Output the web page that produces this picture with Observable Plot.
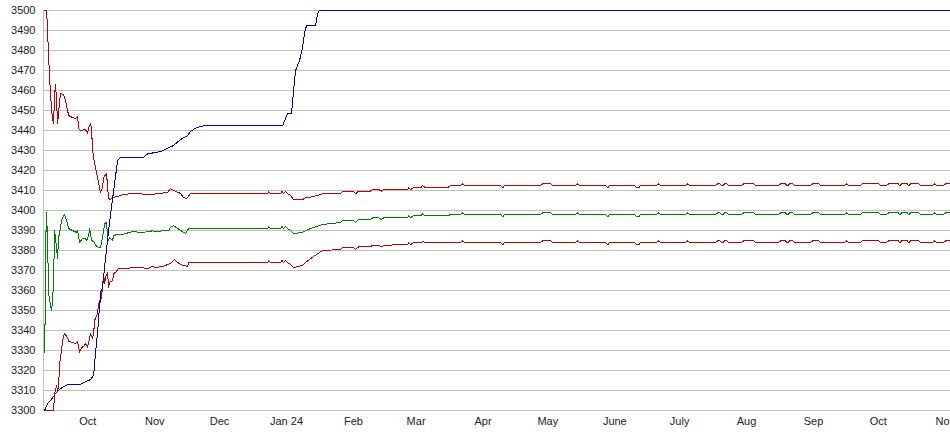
<!DOCTYPE html>
<html>
<head>
<meta charset="utf-8">
<script src="https://cdn.jsdelivr.net/npm/d3@7"></script>
<script src="https://cdn.jsdelivr.net/npm/@observablehq/plot@0.6"></script>
<style>
  html, body { margin: 0; padding: 0; background: #fff; overflow: hidden; }
  #chart svg { display: block; overflow: visible; }
</style>
</head>
<body>
<div id="chart"></div>
<script>
// ---------- tick labels ----------
const yTicks = d3.range(3300, 3501, 10);
const xTickDates = ["2023-10-01 00","2023-11-01 00","2023-12-01 00","2024-01-01 00","2024-02-01 00","2024-03-01 00","2024-04-01 00","2024-05-01 00","2024-06-01 00","2024-07-01 00","2024-08-01 00","2024-09-01 00","2024-10-01 00","2024-11-01 00"];
const xTickLabels = ["Oct","Nov","Dec","Jan 24","Feb","Mar","Apr","May","June","July","Aug","Sep","Oct","Nov"];

// ---------- blue series ----------
const blueDates = ["2023-09-11 00","2023-09-12 09","2023-09-13 19","2023-09-16 02","2023-09-18 10","2023-09-21 16","2023-09-27 12","2023-09-29 01","2023-10-01 09","2023-10-02 07",
  "2023-10-03 17","2023-10-04 15","2023-10-05 12","2023-10-06 22","2023-10-07 20","2023-10-09 06","2023-10-10 15","2023-10-12 12","2023-10-14 19","2023-10-16 05",
  "2023-10-26 20","2023-10-28 17","2023-11-03 17","2023-11-09 17","2023-11-12 23","2023-11-16 05","2023-11-17 14","2023-11-20 09","2023-11-23 14","2023-12-30 05",
  "2024-01-01 12","2024-01-03 08","2024-01-04 07","2024-01-05 05","2024-01-07 01","2024-01-08 11","2024-01-09 09","2024-01-10 07","2024-01-14 11","2024-01-15 09",
  "2024-01-16 07","2024-11-05 00"];
const blueValues = [3300,3303.5,3305,3308.5,3311,3313,3313,3314,3315,3315.5,
  3317.5,3329,3338.5,3359,3361.5,3376.5,3390,3406,3425,3426.7,
  3426.7,3428.3,3429.5,3432.5,3435.5,3437.5,3439.5,3441.5,3442.3,3442.3,
  3448.5,3448.5,3460,3470,3475,3481.5,3489,3492.5,3492.5,3498.5,
  3500,3500];

// ---------- upper red series (early part) ----------
const upperEarlyDates = ["2023-09-11 00","2023-09-11 22","2023-09-12 06","2023-09-12 20","2023-09-13 07","2023-09-13 19","2023-09-14 06","2023-09-14 17","2023-09-15 04","2023-09-15 15",
  "2023-09-16 02","2023-09-16 13","2023-09-17 00","2023-09-17 12","2023-09-17 23","2023-09-18 10","2023-09-19 19","2023-09-20 17","2023-09-21 16","2023-09-22 03",
  "2023-09-23 23","2023-09-25 08","2023-09-26 07","2023-09-26 18","2023-09-27 16","2023-09-29 23","2023-09-30 22","2023-10-01 09","2023-10-02 07","2023-10-02 18",
  "2023-10-03 05","2023-10-04 04","2023-10-05 13","2023-10-06 22","2023-10-07 20","2023-10-08 07","2023-10-09 17","2023-10-10 04","2023-10-10 15","2023-10-11 13",
  "2023-10-12 12","2023-10-14 19","2023-10-17 14","2023-10-21 18","2023-10-30 02","2023-11-06 23","2023-11-08 08","2023-11-09 17","2023-11-12 23","2023-11-14 08",
  "2023-11-15 18","2023-11-17 14"];
const upperEarlyValues = [3500,3500,3493,3478,3467,3458,3450,3446,3443.5,3458,
  3463,3455,3443.5,3448.5,3455,3458.5,3458,3455,3450,3447.5,
  3446.5,3446,3447,3441,3440,3440.5,3438.5,3441,3443.5,3441,
  3430,3423.5,3416.5,3409,3411.5,3416.5,3418.5,3411.5,3406,3405.5,
  3406.5,3407,3408,3408.5,3408,3409,3411,3410,3408.5,3406.5,
  3406,3408.5];

// ---------- green series (early part) ----------
const midEarlyDates = ["2023-09-11 00","2023-09-11 06","2023-09-11 11","2023-09-11 22","2023-09-12 06","2023-09-12 17","2023-09-12 20","2023-09-13 19","2023-09-14 06","2023-09-14 17",
  "2023-09-15 04","2023-09-15 15","2023-09-16 13","2023-09-17 00","2023-09-17 12","2023-09-17 23","2023-09-18 21","2023-09-19 19","2023-09-20 06","2023-09-21 05",
  "2023-09-22 03","2023-09-23 23","2023-09-25 19","2023-09-26 07","2023-09-27 05","2023-09-28 14","2023-09-29 23","2023-09-30 11","2023-10-01 09","2023-10-01 20",
  "2023-10-02 18","2023-10-03 17","2023-10-04 15","2023-10-06 00","2023-10-06 22","2023-10-07 20","2023-10-08 19","2023-10-09 17","2023-10-10 04","2023-10-10 15",
  "2023-10-11 02","2023-10-12 12","2023-10-12 23","2023-10-14 19","2023-10-17 03","2023-10-21 18","2023-10-25 11","2023-10-30 02","2023-10-31 00","2023-10-31 11",
  "2023-11-07 10","2023-11-08 08","2023-11-09 17","2023-11-11 14","2023-11-12 23","2023-11-15 07","2023-11-16 16"];
const midEarlyValues = [3329,3346.5,3381.5,3399,3388.5,3368.5,3358.5,3352.5,3350,3355,
  3365,3390,3381.5,3376,3386.5,3389,3395,3397.5,3398,3395,
  3391,3390,3389,3390,3384,3386,3386,3385,3387.5,3391,
  3385,3384.5,3382.5,3381.5,3381.5,3386.5,3393.5,3394,3386.5,3385,
  3386.5,3385,3387.5,3388,3388,3389.5,3389,3389.5,3390,3389.5,
  3390,3391.5,3392.5,3391,3390,3388.5,3391];

// ---------- lower red series (early part) ----------
const lowerEarlyDates = ["2023-09-11 00","2023-09-15 04","2023-09-15 15","2023-09-16 13","2023-09-17 00","2023-09-17 12","2023-09-17 23","2023-09-18 21","2023-09-19 08","2023-09-20 06",
  "2023-09-21 16","2023-09-22 03","2023-09-23 23","2023-09-25 08","2023-09-26 07","2023-09-27 05","2023-09-28 03","2023-09-29 01","2023-09-29 23","2023-09-30 22",
  "2023-10-01 09","2023-10-02 07","2023-10-03 05","2023-10-03 17","2023-10-04 04","2023-10-05 13","2023-10-06 00","2023-10-06 22","2023-10-07 20","2023-10-08 07",
  "2023-10-08 19","2023-10-09 06","2023-10-10 04","2023-10-10 15","2023-10-11 02","2023-10-12 12","2023-10-12 23","2023-10-13 21","2023-10-15 06","2023-10-18 12",
  "2023-10-22 05","2023-10-25 11","2023-10-28 17","2023-10-31 00","2023-11-01 09","2023-11-04 15","2023-11-08 08","2023-11-10 05","2023-11-11 14","2023-11-12 23",
  "2023-11-16 05","2023-11-16 16"];
const lowerEarlyValues = [3300,3300,3308.5,3312.5,3310,3312,3323.5,3330,3335,3338.5,
  3336.5,3334.5,3334,3333.5,3334.5,3329,3331.5,3332,3333.5,3331.5,
  3334,3338.5,3336,3338.5,3345,3348.5,3353.5,3354,3361.5,3368.5,
  3363.5,3367,3369,3361.5,3364,3365,3368.5,3369,3371,3371,
  3371.5,3371.5,3371,3372,3371.5,3372,3373.5,3375.5,3374,3373,
  3372,3374];

// ---------- shared dates after mid-December (the three bands move together) ----------
const syncDates = ["2023-12-23 06","2023-12-23 17","2023-12-24 15","2023-12-29 06","2023-12-29 23","2023-12-30 16","2023-12-31 14","2024-01-01 12","2024-01-02 22","2024-01-04 07",
  "2024-01-08 11","2024-01-09 20","2024-01-13 13","2024-01-17 17","2024-01-26 01","2024-01-26 23","2024-02-01 01","2024-02-02 00","2024-02-03 09","2024-02-08 22",
  "2024-02-09 20","2024-02-12 15","2024-02-14 00","2024-02-14 23","2024-02-26 01","2024-02-26 12","2024-02-27 11","2024-02-28 20","2024-03-03 02","2024-03-04 00",
  "2024-03-05 10","2024-03-15 14"];
const syncUpper = [3408.5,3409.5,3408.5,3408.5,3409.5,3408.5,3409.5,3408.5,3407.5,3405.5,
  3405.5,3406.3,3407,3408.3,3408.3,3409.7,3409.7,3408.3,3409.7,3409.7,
  3410.5,3410.5,3409.7,3410.5,3410.5,3411.3,3410.5,3411.3,3411.3,3412.5,
  3411.3,3411.3];
const syncMid = [3391,3392,3391,3391,3392,3391,3392,3391,3390,3388.5,
  3389,3390,3391.5,3393,3394,3395,3395,3394,3395.5,3395.5,
  3396.3,3396.3,3395.5,3396.3,3396.5,3397.3,3396.5,3397.3,3397.3,3398.3,
  3397.3,3397.3];
const syncLower = [3374,3375,3374,3374,3375,3374,3375,3374,3373,3371.5,
  3372.5,3374,3377,3380,3380.5,3381.5,3381.5,3380.5,3381.8,3381.8,
  3382.6,3382.6,3381.8,3382.6,3383,3383.8,3383,3383.8,3383.8,3384.6,
  3383.8,3383.8];

const lateDates = ["2024-03-16 23","2024-03-21 14","2024-03-22 12","2024-03-23 11","2024-04-09 03","2024-04-10 01","2024-04-10 23","2024-04-27 15","2024-04-28 13","2024-05-02 06",
  "2024-05-03 05","2024-05-13 20","2024-05-14 18","2024-05-15 17","2024-05-27 17","2024-05-28 16","2024-05-29 14","2024-06-10 04","2024-06-11 02","2024-06-12 00",
  "2024-06-12 22","2024-06-20 08","2024-06-21 06","2024-06-22 05","2024-07-03 18","2024-07-04 17","2024-07-05 15","2024-07-17 16","2024-07-18 14","2024-07-19 12",
  "2024-07-20 21","2024-07-21 19","2024-07-22 18","2024-07-23 16","2024-07-29 17","2024-07-30 15","2024-08-04 06","2024-08-05 04","2024-08-15 19","2024-08-16 18",
  "2024-08-19 01","2024-08-19 23","2024-08-20 22","2024-08-22 07","2024-08-23 05","2024-08-30 15","2024-08-31 13","2024-09-03 08","2024-09-04 06","2024-09-15 09",
  "2024-09-16 07","2024-09-17 05","2024-09-22 19","2024-09-23 17","2024-10-01 03","2024-10-02 01","2024-10-04 19","2024-10-05 18","2024-10-10 09","2024-10-10 20",
  "2024-10-11 18","2024-10-14 13","2024-10-15 00","2024-10-15 22","2024-10-19 15","2024-10-20 13","2024-10-26 03","2024-10-27 01","2024-10-27 23","2024-10-31 05",
  "2024-11-01 03","2024-11-05 00"];
const lateUpper = [3412.5,3412.5,3413.3,3412.5,3412.5,3411.3,3412.5,3412.5,3413.3,3413.3,
  3412.5,3412.5,3413.3,3412.5,3412.5,3411.3,3412.5,3412.5,3411.3,3411.3,
  3412.5,3412.5,3413.3,3412.5,3412.5,3413.3,3412.5,3412.5,3413.3,3413.3,
  3412.3,3413.3,3413.3,3412.5,3412.5,3413.3,3413.3,3412.5,3412.5,3413.3,
  3413.3,3412.3,3413.3,3413.3,3412.5,3412.5,3413.3,3413.3,3412.5,3412.5,
  3413.3,3412.5,3412.5,3413.6,3413.6,3412.5,3412.5,3413.3,3413.3,3412.3,
  3413.3,3413.3,3412.3,3413.3,3413.3,3412.5,3412.5,3413.3,3412.5,3412.5,
  3413.3,3413.3];
const lateMid = [3398,3398,3398.8,3398,3398,3396.8,3398,3398,3398.8,3398.8,
  3398,3398,3398.8,3398,3398,3396.8,3398,3398,3396.8,3396.8,
  3398,3398,3398.8,3398,3398,3398.8,3398,3398,3398.8,3398.8,
  3397.8,3398.8,3398.8,3398,3398,3398.8,3398.8,3398,3398,3398.8,
  3398.8,3397.8,3398.8,3398.8,3398,3398,3398.8,3398.8,3398,3398,
  3398.8,3398,3398,3399.1,3399.1,3398,3398,3398.8,3398.8,3397.8,
  3398.8,3398.8,3397.8,3398.8,3398.8,3398,3398,3398.8,3398,3398,
  3398.8,3398.8];
const lateLower = [3384,3384,3384.8,3384,3384,3382.8,3384,3384,3384.8,3384.8,
  3384,3384,3384.8,3384,3384,3382.8,3384,3384,3382.8,3382.8,
  3384,3384,3384.8,3384,3384,3384.8,3384,3384,3384.8,3384.8,
  3383.8,3384.8,3384.8,3384,3384,3384.8,3384.8,3384,3384,3384.8,
  3384.8,3383.8,3384.8,3384.8,3384,3384,3384.8,3384.8,3384,3384,
  3384.8,3384,3384,3385.1,3385.1,3384,3384,3384.8,3384.8,3383.8,
  3384.8,3384.8,3383.8,3384.8,3384.8,3384,3384,3384.8,3384,3384,
  3384.8,3384.8];

// ---------- build tables ----------
const parse = d3.utcParse("%Y-%m-%d %H");
function series(dates, values) {
  return dates.map((d, i) => ({date: parse(d), value: values[i]}));
}
const blue = series(blueDates, blueValues);
const upper = series(upperEarlyDates.concat(syncDates, lateDates), upperEarlyValues.concat(syncUpper, lateUpper));
const mid = series(midEarlyDates.concat(syncDates, lateDates), midEarlyValues.concat(syncMid, lateMid));
const lower = series(lowerEarlyDates.concat(syncDates, lateDates), lowerEarlyValues.concat(syncLower, lateLower));

const tickDates = xTickDates.map(parse);
const labelOf = new Map(tickDates.map((d, i) => [+d, xTickLabels[i]]));
const xStart = parse("2023-09-10 12");
const xEnd = parse("2024-11-03 10");

const lineOpts = {x: "date", y: "value", strokeWidth: 1, shapeRendering: "crispEdges"};

const chart = Plot.plot({
  width: 950,
  height: 435,
  marginLeft: 43,
  marginRight: 0,
  marginTop: 10,
  marginBottom: 25,
  style: {fontFamily: "'Liberation Sans', Arial, sans-serif", fontSize: "11px", color: "#222", background: "#fff"},
  x: {type: "utc", domain: [xStart, xEnd]},
  y: {domain: [3300, 3500]},
  marks: [
    Plot.ruleY(yTicks, {stroke: "#c0c0c0", strokeWidth: 1}),
    Plot.ruleX([xStart], {stroke: "#c0c0c0", strokeWidth: 1}),
    Plot.axisY(yTicks, {tickSize: 0, tickPadding: 8, label: null, tickFormat: d => String(d), fill: "#222"}),
    Plot.axisX(tickDates, {tickSize: 0, tickPadding: 7, label: null, tickFormat: d => labelOf.get(+d), fill: "#222"}),
    Plot.line(mid, {...lineOpts, stroke: "#008000"}),
    Plot.line(lower, {...lineOpts, stroke: "#c00000"}),
    Plot.line(upper, {...lineOpts, stroke: "#c00000"}),
    Plot.line(blue, {...lineOpts, stroke: "#0000b4"})
  ]
});
document.getElementById("chart").appendChild(chart);
</script>
</body>
</html>
